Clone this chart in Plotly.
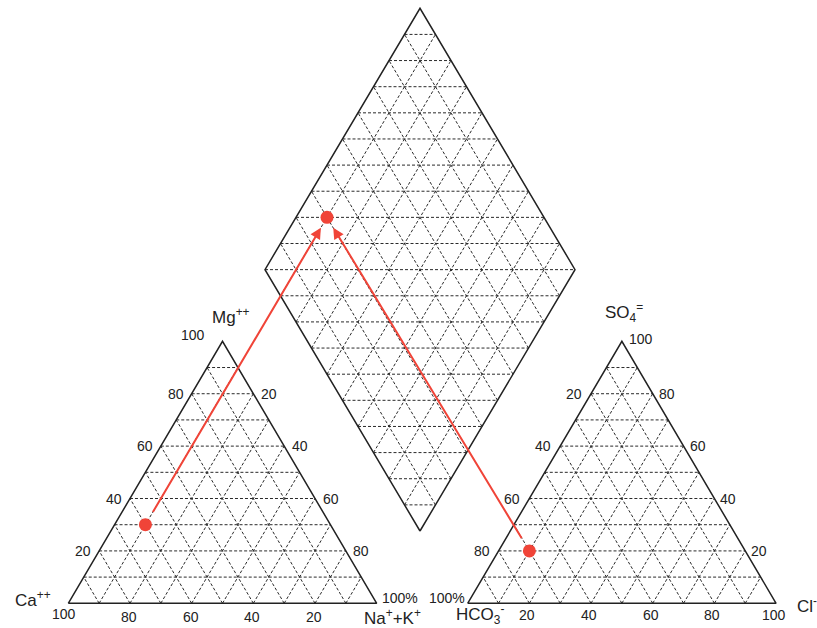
import plotly.graph_objects as go

# ---------------- data (percent of meq/L) ----------------
sample_names = ["Sample"]
ca = [60]
mg = [30]
na_k = [10]
hco3 = [70]
so4 = [20]
cl = [10]

# tick label texts
cat_bottom_labels = ["100", "80", "60", "40", "20"]      # at t = 0, .2, .4, .6, .8
cat_left_labels = ["20", "40", "60", "80", "100"]        # at h = .2 .. 1.0
cat_right_labels = ["80", "60", "40", "20"]              # at h = .2 .. .8
an_left_labels = ["80", "60", "40", "20"]                # at h = .2 .. .8
an_right_labels = ["20", "40", "60", "80", "100"]        # at h = .2 .. 1.0
an_bottom_labels = ["20", "40", "60", "80", "100"]       # at t = .2 .. 1.0

# ---------------- geometry (layout) ----------------
PX_X, PX_Y = 3.084, 3.025          # pixels per unit
X0_PX, Y0_PX = 68.3, 603.3         # pixel position of unit origin
W, H = 817, 628
X_RANGE = [-X0_PX / PX_X, (W - X0_PX) / PX_X]
Y_RANGE = [-(H - Y0_PX) / PX_Y, Y0_PX / PX_Y]

S3 = 86.6
CAT = [(0.0, 0.0), (100.0, 0.0), (50.0, S3)]            # Ca, Na+K, Mg
AN = [(129.5, 0.0), (229.5, 0.0), (179.5, S3)]          # HCO3, Cl, SO4
DB, DL, DR, DT = (114.04, 23.9), (63.78, 110.3), (164.3, 110.3), (114.04, 196.7)

RED = "#F04438"
INK = "#222222"
GRID = "#2a2a2a"
FONT = "Liberation Sans, Arial, sans-serif"


def lerp(p, q, t):
    return (p[0] + (q[0] - p[0]) * t, p[1] + (q[1] - p[1]) * t)


def add(p, q, s=1.0):
    return (p[0] + q[0] * s, p[1] + q[1] * s)


def sub(p, q):
    return (p[0] - q[0], p[1] - q[1])


def seg(xs, ys, p, q):
    xs += [p[0], q[0], None]
    ys += [p[1], q[1], None]


gx, gy = [], []
for A, B, C in (CAT, AN):
    for k in range(1, 10):
        t = k / 10
        seg(gx, gy, lerp(A, C, t), lerp(B, C, t))
        P = lerp(A, B, t)
        seg(gx, gy, P, add(P, sub(C, A), 1 - t))
        seg(gx, gy, P, lerp(A, C, t))

vL, vR = sub(DL, DB), sub(DR, DB)
for k in range(1, 10):
    s = k / 10
    P = add(DB, vL, s)
    seg(gx, gy, P, add(P, vR))
    P = add(DB, vR, s)
    seg(gx, gy, P, add(P, vL))
for j in range(1, 20):
    f = j / 20
    if f <= 0.5:
        q = 2 * f
        seg(gx, gy, lerp(DB, DL, q), lerp(DB, DR, q))
    else:
        q = 2 * f - 1
        seg(gx, gy, lerp(DL, DT, q), lerp(DR, DT, q))

bx, by = [], []
for poly in (CAT, AN, [DB, DR, DT, DL]):
    for p in poly + [poly[0]]:
        bx.append(p[0])
        by.append(p[1])
    bx.append(None)
    by.append(None)

fig = go.Figure()
fig.add_trace(go.Scatter(x=gx, y=gy, mode="lines", hoverinfo="skip",
                         line=dict(color=GRID, width=1, dash="3px,2px")))
fig.add_trace(go.Scatter(x=bx, y=by, mode="lines", hoverinfo="skip",
                         line=dict(color=INK, width=1.5)))

# sample positions
cx, cy, axp, ayp, dx, dy = [], [], [], [], [], []
for i in range(len(sample_names)):
    tot_c = ca[i] + mg[i] + na_k[i]
    tot_a = hco3[i] + so4[i] + cl[i]
    n, m = na_k[i] / tot_c, mg[i] / tot_c
    A, B, C = CAT
    p = add(add(A, sub(B, A), n), sub(C, A), m)
    cx.append(p[0]); cy.append(p[1])
    c_, s_ = cl[i] / tot_a, so4[i] / tot_a
    A, B, C = AN
    p = add(add(A, sub(B, A), c_), sub(C, A), s_)
    axp.append(p[0]); ayp.append(p[1])
    d = add(add(DB, vL, (ca[i] + mg[i]) / tot_c), vR, (so4[i] + cl[i]) / tot_a)
    dx.append(d[0]); dy.append(d[1])

annotations = []
for i in range(len(sample_names)):
    for sx, sy in ((cx[i], cy[i]), (axp[i], ayp[i])):
        annotations.append(dict(x=dx[i], y=dy[i], ax=sx, ay=sy, xref="x", yref="y",
                                axref="x", ayref="y", text="", showarrow=True,
                                arrowhead=2, arrowsize=1.1, arrowwidth=2,
                                arrowcolor=RED, standoff=12, startstandoff=13))

fig.add_trace(go.Scatter(x=cx + axp + dx, y=cy + ayp + dy, mode="markers",
                         hoverinfo="skip",
                         marker=dict(color=RED, size=13, line=dict(width=0))))


def lab(p, text, xanchor="center", xshift=0, yshift=0, size=14, yanchor="middle"):
    annotations.append(dict(x=p[0], y=p[1], xref="x", yref="y", text=text,
                            showarrow=False, xanchor=xanchor, yanchor=yanchor,
                            xshift=xshift, yshift=yshift,
                            font=dict(family=FONT, size=size, color=INK)))


# cation triangle ticks
A, B, C = CAT
for k, t in enumerate(cat_bottom_labels):
    tt = k * 0.2
    lab(lerp(A, B, tt), t, "center", -1 if k else -4, -13.4 if k else -11)
lab(B, "100%", "left", 3, 5.5)
for k, t in enumerate(cat_left_labels):
    h = 0.2 * (k + 1)
    if k < 4:
        lab(lerp(A, C, h), t, "right", -6, 0)
    else:
        lab(C, t, "right", -16, 6)
for k, t in enumerate(cat_right_labels):
    h = 0.2 * (k + 1)
    lab(lerp(B, C, h), t, "left", 5.5, 0)

# anion triangle ticks
A, B, C = AN
for k, t in enumerate(an_bottom_labels):
    tt = 0.2 * (k + 1)
    lab(lerp(A, B, tt), t, "center", -2, -12)
lab(A, "100%", "right", -1, 5.5)
for k, t in enumerate(an_left_labels):
    h = 0.2 * (k + 1)
    lab(lerp(A, C, h), t, "right", -7, 0)
for k, t in enumerate(an_right_labels):
    h = 0.2 * (k + 1)
    if k < 4:
        lab(lerp(B, C, h), t, "left", 4, 0)
    else:
        lab(C, t, "left", 5, 2)

# vertex titles
TS = 17
lab(CAT[2], "Mg<sup>++</sup>", "left", -12.7, 25, TS)
lab(CAT[0], "Ca<sup>++</sup>", "right", -15, 4, TS)
lab(CAT[1], "Na<sup>+</sup>+K<sup>+</sup>", "left", -15, -14, TS)
lab(AN[0], "HCO<sub>3</sub><sup>-</sup>", "left", -14, -11, TS)
lab(AN[1], "Cl<sup>-</sup>", "left", 19, -2, TS)
lab(AN[2], "SO<sub>4</sub><sup>=</sup>", "left", -19.3, 29, TS)

fig.update_layout(
    width=W, height=H, margin=dict(l=0, r=0, t=0, b=0),
    paper_bgcolor="white", plot_bgcolor="white", showlegend=False,
    xaxis=dict(range=X_RANGE, visible=False, fixedrange=True),
    yaxis=dict(range=Y_RANGE, visible=False, fixedrange=True),
    annotations=annotations,
)

fig.write_html("out.html", config={"displayModeBar": False},
               post_script="document.body.style.margin='0';document.body.style.overflow='hidden';")
